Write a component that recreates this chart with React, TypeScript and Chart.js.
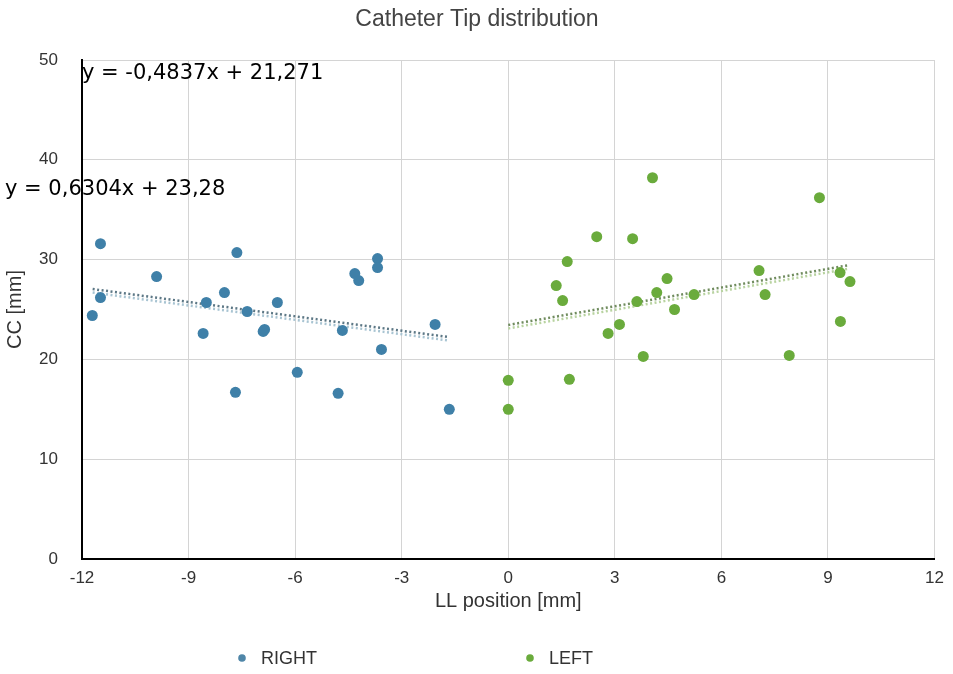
import React, { useEffect, useRef } from "react";
import { Chart, registerables } from "chart.js";

Chart.register(...registerables);

const chartTitle = "Catheter Tip distribution";
const xAxisTitle = "LL position [mm]";
const yAxisTitle = "CC [mm]";
const seriesNames = ["RIGHT", "LEFT"];
const equations = ["y = -0,4837x + 21,271", "y = 0,6304x + 23,28"];

const rightX = [-11.48, -11.71, -11.48, -9.9, -8.59, -8.5, -7.99, -7.64, -7.68, -7.35, -6.9, -6.86, -6.5, -5.94, -4.79, -4.67, -4.32, -4.21, -3.68, -3.68, -3.57, -2.06, -1.66];
const rightY = [31.6, 24.4, 26.2, 28.3, 22.6, 25.7, 26.7, 30.7, 16.7, 24.8, 22.8, 23.0, 25.7, 18.7, 16.6, 22.9, 28.6, 27.9, 30.1, 29.2, 21.0, 23.5, 15.0];

const leftX = [4.06, 8.76, 2.49, 3.5, 1.66, 1.35, 1.53, 4.47, 4.18, 3.62, 4.68, 5.23, 7.06, 7.23, 9.34, 9.62, 9.35, 3.13, 2.81, 3.8, 7.91, 0, 1.72, 0];
const leftY = [38.2, 36.2, 32.3, 32.1, 29.8, 27.4, 25.9, 28.1, 26.7, 25.8, 25.0, 26.5, 28.9, 26.5, 28.7, 27.8, 23.8, 23.5, 22.6, 20.3, 20.4, 17.9, 18.0, 15.0];

const rightTrendX = [-11.7, -1.7];
const rightTrendY = [26.9, 22.1];
const leftTrendX = [0, 9.6];
const leftTrendY = [23.3, 29.3];

const xMin = -12;
const xMax = 12;
const xStep = 3;
const yMin = 0;
const yMax = 50;
const yStep = 10;

const blue = "#3f80a8";
const green = "#6aab3c";
const sans = "'Liberation Sans', Arial, sans-serif";

const pts = (xs: number[], ys: number[], dy = 0) => xs.map((x, i) => ({ x, y: ys[i] + dy }));

const overlay = {
  id: "overlay",
  afterDraw(chart: any) {
    const ctx = chart.ctx as CanvasRenderingContext2D;
    const ca = chart.chartArea;
    ctx.save();
    // title
    ctx.fillStyle = "#444";
    ctx.font = `23px ${sans}`;
    ctx.textAlign = "center";
    ctx.textBaseline = "middle";
    ctx.fillText(chartTitle, 477, 20);
    // equations
    ctx.fillStyle = "#000";
    ctx.font = "21px 'DejaVu Sans', Verdana, sans-serif";
    ctx.textAlign = "left";
    ctx.fillText(equations[0], ca.left, ca.top + 14);
    ctx.fillText(equations[1], 5, 190);
    // legend
    const items = [
      { label: seriesNames[0], color: "#4f86a8", x: 242 },
      { label: seriesNames[1], color: green, x: 530 },
    ];
    ctx.font = `18px ${sans}`;
    for (const it of items) {
      ctx.fillStyle = it.color;
      ctx.beginPath();
      ctx.arc(it.x, 658, 3.8, 0, Math.PI * 2);
      ctx.fill();
      ctx.fillStyle = "#333";
      ctx.fillText(it.label, it.x + 19, 659);
    }
    ctx.restore();
  },
};

export default function App() {
  const ref = useRef<HTMLCanvasElement | null>(null);
  useEffect(() => {
    if (!ref.current) return;
    const chart = new Chart(ref.current, {
      type: "scatter",
      data: {
        datasets: [
          { label: seriesNames[0], data: pts(rightX, rightY), backgroundColor: blue, borderColor: blue, pointRadius: 5.5, pointBorderWidth: 0 },
          { label: seriesNames[1], data: pts(leftX, leftY), backgroundColor: green, borderColor: green, pointRadius: 5.5, pointBorderWidth: 0 },
          { label: "rt1", data: pts(rightTrendX, rightTrendY, 0.15), showLine: true, pointRadius: 0, borderColor: "#5d7886", borderWidth: 2.5, borderDash: [2, 2.5] },
          { label: "rt2", data: pts(rightTrendX, rightTrendY, -0.2), showLine: true, pointRadius: 0, borderColor: "#a8c4d2", borderWidth: 2.5, borderDash: [2, 2.5] },
          { label: "lt1", data: pts(leftTrendX, leftTrendY, 0.15), showLine: true, pointRadius: 0, borderColor: "#708c5e", borderWidth: 2.5, borderDash: [2, 2.5] },
          { label: "lt2", data: pts(leftTrendX, leftTrendY, -0.2), showLine: true, pointRadius: 0, borderColor: "#b8d3a0", borderWidth: 2.5, borderDash: [2, 2.5] },
        ],
      },
      options: {
        animation: false,
        responsive: true,
        maintainAspectRatio: false,
        layout: { padding: { top: 60, right: 15, bottom: 61, left: 0 } },
        plugins: {
          legend: { display: false },
          title: { display: false },
          tooltip: { enabled: false },
        },
        scales: {
          x: {
            type: "linear",
            min: xMin,
            max: xMax,
            ticks: { stepSize: xStep, color: "#333", font: { size: 17, family: sans }, padding: 9 },
            grid: { color: "#d4d4d4", lineWidth: 1, drawTicks: false },
            border: { color: "#000", width: 2 },
            title: { display: true, text: xAxisTitle, color: "#333", font: { size: 20, family: sans }, padding: 0 },
            afterFit: (s: any) => { s.height = 54; },
          },
          y: {
            type: "linear",
            min: yMin,
            max: yMax,
            ticks: { stepSize: yStep, color: "#333", font: { size: 17, family: sans }, padding: 24 },
            grid: { color: "#d4d4d4", lineWidth: 1, drawTicks: false },
            border: { color: "#000", width: 2 },
            title: { display: true, text: yAxisTitle, color: "#333", font: { size: 20, family: sans }, padding: { top: 3, bottom: 0 } },
            afterFit: (s: any) => { s.width = 82; },
          },
        },
      },
      plugins: [overlay],
    } as any);
    return () => chart.destroy();
  }, []);
  return (
    <div style={{ position: "absolute", left: 0, top: 0, width: 953, height: 674, background: "#fff" }}>
      <canvas ref={ref} />
    </div>
  );
}
